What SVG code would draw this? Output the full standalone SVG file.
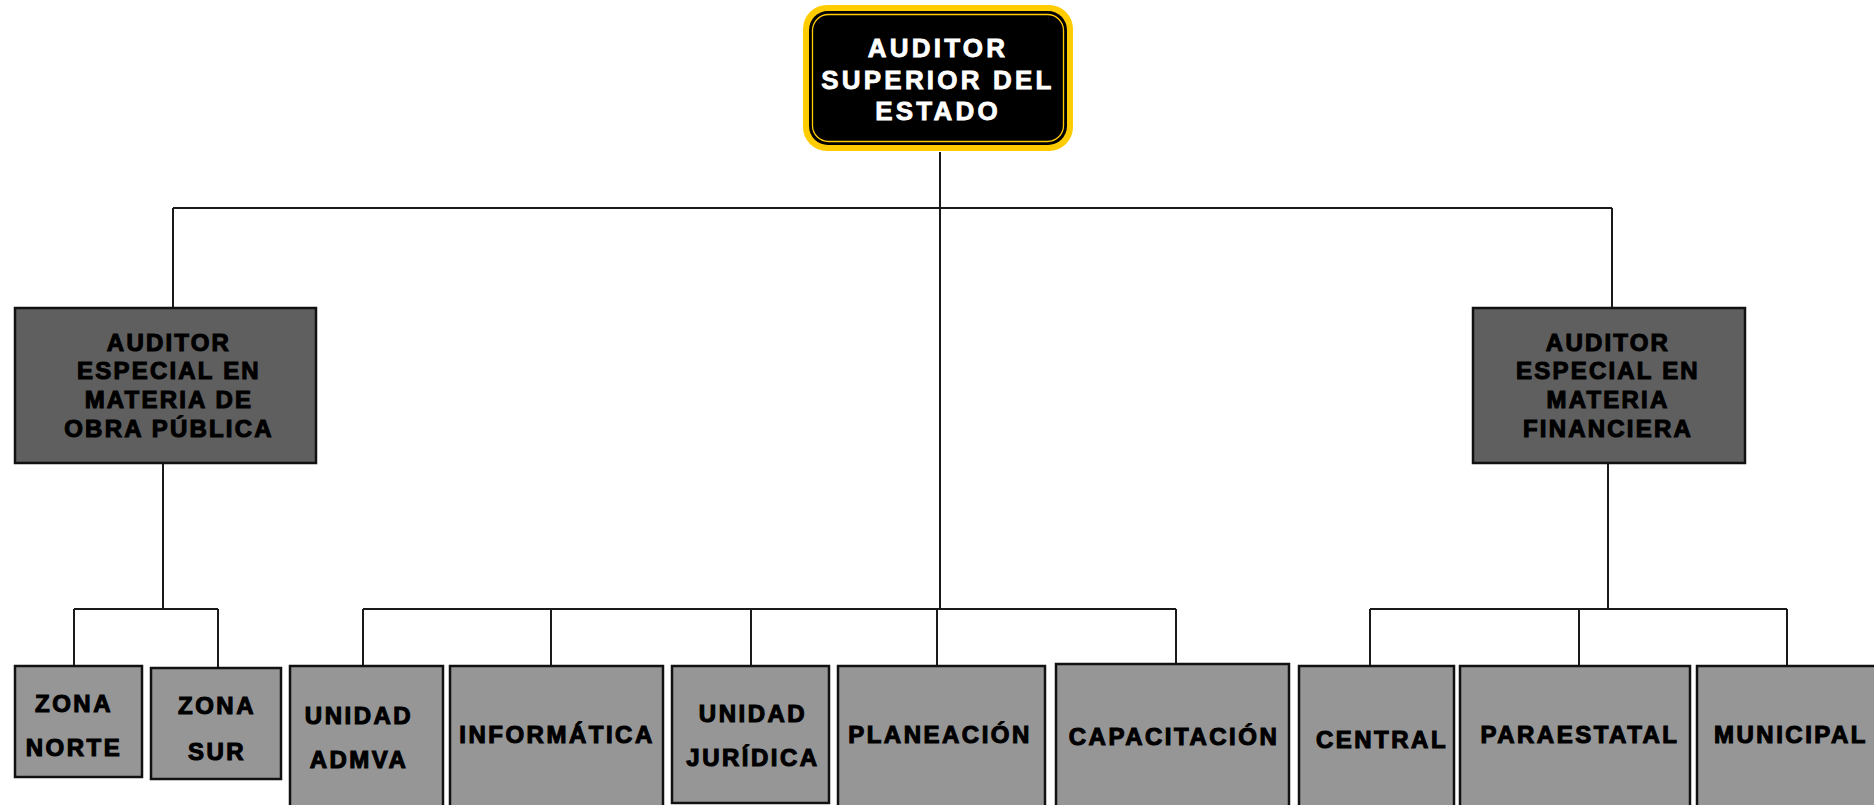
<svg xmlns="http://www.w3.org/2000/svg" width="1874" height="805" viewBox="0 0 1874 805">
<style>
.ln{stroke:#1a1a1a;stroke-width:2;fill:none}
.mid{fill:#5f5f5f;stroke:#111;stroke-width:2.5}
.bot{fill:#969696;stroke:#111;stroke-width:2.5}
.t{font-family:"Liberation Sans",Arial,sans-serif;font-weight:bold;text-anchor:middle;fill:#000;stroke:#000;stroke-width:1.1}
.tw{font-family:"Liberation Sans",Arial,sans-serif;font-weight:bold;text-anchor:middle;fill:#fff;stroke:#fff;stroke-width:0.8;font-size:26px;letter-spacing:3.2px}
.m{font-size:24px;letter-spacing:2.2px}
.b{font-size:24px;letter-spacing:2.5px}
</style>
<rect width="1874" height="805" fill="#fff"/>
<g id="connectors">
<path class="ln" d="M940 152V609"/>
<path class="ln" d="M173 208H1612M173 208V308M1612 208V308"/>
<path class="ln" d="M163 463V609M74 609H218M74 609V666M218 609V668"/>
<path class="ln" d="M363 609H1176M363 609V666M551 609V666M751 609V666M937 609V666M1176 609V664"/>
<path class="ln" d="M1608 463V609M1370 609H1787M1370 609V666M1579 609V666M1787 609V666"/>
</g>
<g id="auditor-superior">
<rect x="803" y="5" width="270" height="146" rx="24" fill="#FFCC00"/>
<rect x="809" y="11" width="258" height="134" rx="19" fill="#000"/>
<rect x="812.5" y="14.5" width="251" height="127" rx="16" fill="none" stroke="#FFCC00" stroke-width="1.3"/>
<text class="tw" x="938" y="57">AUDITOR</text>
<text class="tw" x="938" y="89">SUPERIOR DEL</text>
<text class="tw" x="938" y="120">ESTADO</text>
</g>
<g id="auditor-obra">
<rect class="mid" x="15" y="308" width="301" height="155"/>
<text class="t m" x="169" y="351">AUDITOR</text>
<text class="t m" x="169" y="379">ESPECIAL EN</text>
<text class="t m" x="169" y="408">MATERIA DE</text>
<text class="t m" x="169" y="437">OBRA PÚBLICA</text>
</g>
<g id="auditor-financiera">
<rect class="mid" x="1473" y="308" width="272" height="155"/>
<text class="t m" x="1608" y="351">AUDITOR</text>
<text class="t m" x="1608" y="379">ESPECIAL EN</text>
<text class="t m" x="1608" y="408">MATERIA</text>
<text class="t m" x="1608" y="437">FINANCIERA</text>
</g>
<g id="zona-norte">
<rect class="bot" x="15" y="666" width="127" height="111"/>
<text class="t b" x="74" y="712">ZONA</text>
<text class="t b" x="74" y="756">NORTE</text>
</g>
<g id="zona-sur">
<rect class="bot" x="151" y="668" width="130" height="111"/>
<text class="t b" x="217" y="714">ZONA</text>
<text class="t b" x="217" y="760">SUR</text>
</g>
<g id="unidad-admva">
<rect class="bot" x="290" y="666" width="153" height="150"/>
<text class="t b" x="359" y="724">UNIDAD</text>
<text class="t b" x="359" y="768">ADMVA</text>
</g>
<g id="informatica">
<rect class="bot" x="450" y="666" width="213" height="150"/>
<text class="t b" x="557" y="743">INFORMÁTICA</text>
</g>
<g id="unidad-juridica">
<rect class="bot" x="672" y="666" width="157" height="137"/>
<text class="t b" x="753" y="722">UNIDAD</text>
<text class="t b" x="753" y="766">JURÍDICA</text>
</g>
<g id="planeacion">
<rect class="bot" x="838" y="666" width="207" height="150"/>
<text class="t b" x="940" y="743">PLANEACIÓN</text>
</g>
<g id="capacitacion">
<rect class="bot" x="1056" y="664" width="233" height="150"/>
<text class="t b" x="1174" y="745">CAPACITACIÓN</text>
</g>
<g id="central">
<rect class="bot" x="1299" y="666" width="155" height="150"/>
<text class="t b" x="1382" y="748">CENTRAL</text>
</g>
<g id="paraestatal">
<rect class="bot" x="1460" y="666" width="230" height="150"/>
<text class="t b" x="1580" y="743">PARAESTATAL</text>
</g>
<g id="municipal">
<rect class="bot" x="1697" y="666" width="190" height="150"/>
<text class="t b" x="1791" y="743">MUNICIPAL</text>
</g>
</svg>
